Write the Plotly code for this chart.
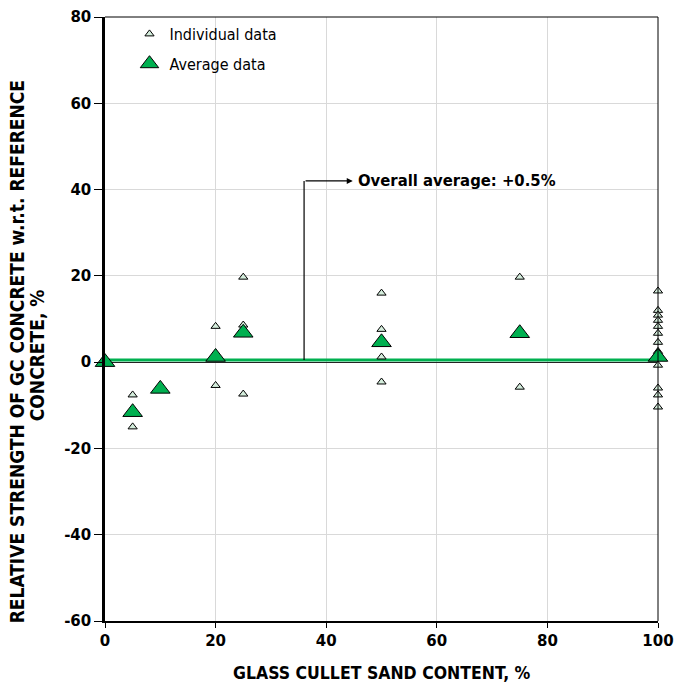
import plotly.graph_objects as go

# Data
ind_x = [5, 5, 20, 20, 25, 25, 25, 50, 50, 50, 50, 75, 75,
         100, 100, 100, 100, 100, 100, 100, 100, 100, 100, 100, 100, 100]
ind_y = [-7.6, -15.0, 8.3, -5.4, 19.7, 8.6, -7.4, 16.0, 7.6, 1.2, -4.6, 19.7, -5.8,
         16.5, 12.0, 10.9, 9.7, 8.3, 6.7, 4.6, 2.5, -0.7, -6.0, -7.6, -10.4, 1.2]
avg_x = [0, 5, 10, 20, 25, 50, 75, 100]
avg_y = [0.0, -11.6, -6.2, 1.2, 6.8, 4.6, 6.7, 1.2]
overall_avg = 0.5
line_x = [0, 100]
x_ticks = [0, 20, 40, 60, 80, 100]
y_ticks = [-60, -40, -20, 0, 20, 40, 60, 80]

FONT = "DejaVu Sans Condensed"
TICKFONT = "DejaVu Sans"

fig = go.Figure()

fig.add_trace(go.Scatter(
    x=line_x, y=[overall_avg] * len(line_x), mode="lines",
    line=dict(color="#00b050", width=3), showlegend=False, hoverinfo="skip"))

fig.add_trace(go.Scatter(
    x=ind_x, y=ind_y, mode="markers", name="Individual data", legendgroup="a",
    cliponaxis=False,
    marker=dict(symbol="triangle-up", size=8, color="#d4eddc",
                line=dict(color="black", width=1))))

fig.add_trace(go.Scatter(
    x=avg_x, y=avg_y, mode="markers", name="Average data", legendgroup="b",
    cliponaxis=False,
    marker=dict(symbol="triangle-up", size=17, color="#00b050",
                line=dict(color="black", width=1))))

# elbow connector for annotation
fig.add_shape(type="line", x0=36, x1=36, y0=overall_avg, y1=42,
              xref="x", yref="y", line=dict(color="black", width=1.2))
fig.add_annotation(x=44.8, y=42, ax=36, ay=42, axref="x", ayref="y",
                   xref="x", yref="y", text="", showarrow=True,
                   arrowhead=2, arrowsize=1, arrowwidth=1.2, arrowcolor="black")
fig.add_annotation(x=45.4, y=42, xref="x", yref="y", xanchor="left",
                   yanchor="middle", text="<b>Overall average: +0.5%</b>",
                   showarrow=False, font=dict(family=FONT, size=16.5, color="black"))

# top and right thin border
fig.add_shape(type="line", xref="paper", yref="paper", x0=0, x1=1, y0=1, y1=1,
              line=dict(color="black", width=1))
fig.add_shape(type="line", xref="paper", yref="paper", x0=1, x1=1, y0=0, y1=1,
              line=dict(color="black", width=1))

# axis titles
fig.add_annotation(xref="paper", yref="paper", x=-0.159, y=0.445,
                   xanchor="center", yanchor="middle", textangle=-90,
                   text="<b>RELATIVE STRENGTH OF GC CONCRETE w.r.t. REFERENCE</b>",
                   showarrow=False, font=dict(family=FONT, size=19, color="black"))
fig.add_annotation(xref="paper", yref="paper", x=-0.123, y=0.44,
                   xanchor="center", yanchor="middle", textangle=-90,
                   text="<b>CONCRETE, %</b>",
                   showarrow=False, font=dict(family=FONT, size=19, color="black"))
fig.add_annotation(xref="paper", yref="paper", x=0.5, y=-0.086,
                   xanchor="center", yanchor="middle",
                   text="<b>GLASS CULLET SAND CONTENT, %</b>",
                   showarrow=False, font=dict(family=FONT, size=17.5, color="black"))

fig.update_layout(
    width=677, height=686,
    margin=dict(l=105, r=19, t=17, b=65, autoexpand=False),
    plot_bgcolor="white", paper_bgcolor="white",
    font=dict(family=FONT, color="black"),
    legend=dict(x=0.0443, y=1.0, xanchor="left", yanchor="top",
                bgcolor="rgba(0,0,0,0)", font=dict(family=FONT, size=16),
                itemsizing="trace", tracegroupgap=6),
    xaxis=dict(range=[0, 100], tickvals=x_ticks, ticktext=[str(v) for v in x_ticks],
               showgrid=True, gridcolor="#d9d9d9", gridwidth=1, automargin=False,
               showline=True, linecolor="black", linewidth=2, mirror=False,
               ticks="outside", ticklen=5, tickcolor="black", zeroline=False,
               tickfont=dict(family=TICKFONT, size=15, weight="bold")),
    yaxis=dict(range=[-60, 80], tickvals=y_ticks, ticktext=[str(v) for v in y_ticks],
               showgrid=True, gridcolor="#d9d9d9", gridwidth=1, automargin=False,
               showline=True, linecolor="black", linewidth=2.5, mirror=False,
               ticks="outside", ticklen=8, tickcolor="black",
               zeroline=True, zerolinecolor="#222222", zerolinewidth=1,
               tickfont=dict(family=TICKFONT, size=15, weight="bold")),
)

# remove the default 8px page margin so the figure fills the window exactly
fig.write_html("out.html",
               config={"displayModeBar": False},
               post_script="document.body.style.margin='0';"
                           "document.body.style.overflow='hidden';")
